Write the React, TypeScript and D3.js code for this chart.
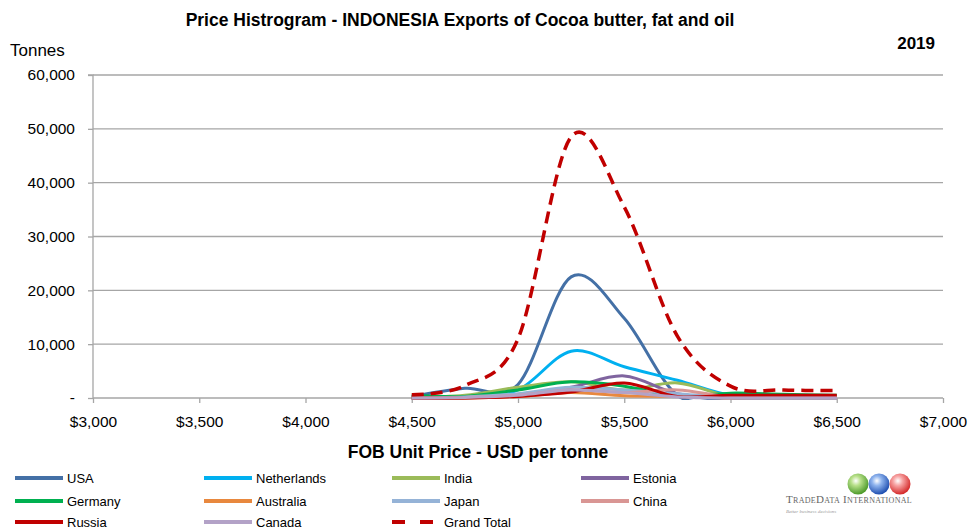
import React, { useRef, useEffect } from 'react';
import * as d3 from 'd3';

// price bins (USD per tonne)
const prices = [4500, 4750, 5000, 5250, 5500, 5750, 6000, 6250, 6500];

// tonnes per bin, by destination
const usa = [300, 1800, 2500, 22500, 14800, 500, 100, 0, 0];
const netherlands = [0, 300, 1500, 8700, 5800, 3300, 500, 200, 200];
const india = [100, 500, 2000, 3000, 1500, 2800, 300, 200, 200];
const estonia = [0, 0, 500, 2000, 4100, 800, 0, 0, 0];
const germany = [500, 300, 1500, 3000, 2200, 300, 900, 700, 500];
const australia = [0, 0, 300, 1000, 400, 300, 0, 0, 0];
const japan = [0, 200, 800, 2000, 1500, 800, 100, 0, 0];
const china = [0, 100, 500, 1500, 1000, 1500, 200, 100, 100];
const russia = [0, 0, 300, 1100, 2800, 300, 500, 500, 500];
const canada = [0, 100, 500, 1500, 1000, 200, 0, 0, 0];
const grandTotal = [600, 2300, 11000, 48500, 35500, 11500, 2200, 1500, 1400];

const xTicks = [3000, 3500, 4000, 4500, 5000, 5500, 6000, 6500, 7000];
const yTicks = [0, 10000, 20000, 30000, 40000, 50000, 60000];

const series = [
  { name: 'USA', values: usa, color: '#4470A6' },
  { name: 'Netherlands', values: netherlands, color: '#00B0F0' },
  { name: 'India', values: india, color: '#9BBB59' },
  { name: 'Estonia', values: estonia, color: '#7F649F' },
  { name: 'Germany', values: germany, color: '#00B050' },
  { name: 'Australia', values: australia, color: '#E8883E' },
  { name: 'Japan', values: japan, color: '#95B3D7' },
  { name: 'China', values: china, color: '#D99694' },
  { name: 'Russia', values: russia, color: '#C00000' },
  { name: 'Canada', values: canada, color: '#B3A2C7' },
  { name: 'Grand Total', values: grandTotal, color: '#C00000', dashed: true },
];

const W = 969;
const H = 529;

const Chart: React.FC = () => {
  const ref = useRef<SVGSVGElement>(null);

  useEffect(() => {
    if (!ref.current) return;
    const svg = d3.select(ref.current);
    svg.selectAll('*').remove();

    const left = 93, right = 943, top = 75, bottom = 398;
    const x = d3.scaleLinear().domain([3000, 7000]).range([left, right]);
    const y = d3.scaleLinear().domain([0, 60000]).range([bottom, top]);
    const font = 'Arial, "Liberation Sans", sans-serif';
    const grid = '#A6A6A6';

    svg.append('rect').attr('width', W).attr('height', H).attr('fill', '#fff');

    // titles
    svg.append('text')
      .attr('x', 460).attr('y', 26)
      .attr('text-anchor', 'middle')
      .style('font', `bold 17.5px ${font}`)
      .text('Price Histrogram - INDONESIA Exports of Cocoa butter, fat and oil');
    svg.append('text')
      .attr('x', 935).attr('y', 49)
      .attr('text-anchor', 'end')
      .style('font', `bold 17px ${font}`)
      .text('2019');
    svg.append('text')
      .attr('x', 10).attr('y', 56)
      .style('font', `17px ${font}`)
      .text('Tonnes');

    // gridlines
    svg.append('g').selectAll('line')
      .data(yTicks.filter(d => d > 0))
      .enter().append('line')
      .attr('x1', left).attr('x2', right)
      .attr('y1', d => y(d)).attr('y2', d => y(d))
      .attr('stroke', grid).attr('stroke-width', 1.3);

    // y axis
    const yAxis = svg.append('g')
      .attr('transform', `translate(${left},0)`)
      .call(d3.axisLeft(y).tickValues(yTicks).tickSize(5).tickPadding(13)
        .tickFormat(d => (+d === 0 ? '-' : d3.format(',')(+d))));
    yAxis.select('.domain').attr('stroke', grid).attr('stroke-width', 1.3).attr('d', `M-5,${top}H0V${bottom}`);
    yAxis.selectAll('.tick line').attr('stroke', grid).attr('stroke-width', 1.3);
    yAxis.selectAll('.tick text').style('font', `15.5px ${font}`).attr('fill', '#000');

    // x axis
    const xAxis = svg.append('g')
      .attr('transform', `translate(0,${bottom})`)
      .call(d3.axisBottom(x).tickValues(xTicks).tickSize(5).tickPadding(13)
        .tickFormat(d => '$' + d3.format(',')(+d)));
    xAxis.select('.domain').attr('stroke', grid).attr('stroke-width', 1.3).attr('d', `M${left},0H${right}`);
    xAxis.selectAll('.tick line').attr('stroke', grid).attr('stroke-width', 1.3);
    xAxis.selectAll('.tick text').style('font', `15.5px ${font}`).attr('fill', '#000');

    svg.append('text')
      .attr('x', 478).attr('y', 458)
      .attr('text-anchor', 'middle')
      .style('font', `bold 17.5px ${font}`)
      .text('FOB Unit Price - USD per tonne');

    // series lines
    svg.append('clipPath').attr('id', 'plot-clip')
      .append('rect').attr('x', left).attr('y', top - 10)
      .attr('width', right - left).attr('height', bottom - top + 12);

    const line = d3.line<number>()
      .x((_, i) => x(prices[i]))
      .y(d => y(d))
      .curve(d3.curveCardinal.tension(0));

    const lines = svg.append('g').attr('clip-path', 'url(#plot-clip)');
    series.forEach(s => {
      lines.append('path')
        .attr('d', line(s.values))
        .attr('fill', 'none')
        .attr('stroke', s.color)
        .attr('stroke-width', s.dashed ? 3.5 : 3)
        .attr('stroke-dasharray', s.dashed ? '12,7' : null)
        .attr('stroke-linejoin', 'round');
    });

    // legend
    const colX = [15, 204, 392, 581];
    const rowY = [478, 501, 522];
    const legend = svg.append('g');
    series.forEach((s, i) => {
      const cx = colX[i % 4];
      const cy = rowY[Math.floor(i / 4)];
      legend.append('line')
        .attr('x1', cx).attr('x2', cx + 48)
        .attr('y1', cy).attr('y2', cy)
        .attr('stroke', s.color)
        .attr('stroke-width', 4)
        .attr('stroke-dasharray', s.dashed ? '13,15' : null);
      legend.append('text')
        .attr('x', cx + 52).attr('y', cy + 5)
        .style('font', `13px ${font}`)
        .text(s.name);
    });

    // logo
    const logo = svg.append('g');
    const globes = [
      { cx: 858, c1: '#b8e08a', c2: '#4c9a2a' },
      { cx: 879, c1: '#8fb4ee', c2: '#1f4fb0' },
      { cx: 900, c1: '#f7a3a3', c2: '#d42a2a' },
    ];
    const defs = svg.append('defs');
    globes.forEach((g, i) => {
      const grad = defs.append('radialGradient').attr('id', `globe${i}`)
        .attr('cx', '40%').attr('cy', '35%').attr('r', '65%');
      grad.append('stop').attr('offset', '0%').attr('stop-color', '#fff');
      grad.append('stop').attr('offset', '35%').attr('stop-color', g.c1);
      grad.append('stop').attr('offset', '100%').attr('stop-color', g.c2);
      logo.append('circle')
        .attr('cx', g.cx).attr('cy', 484).attr('r', 10.5)
        .attr('fill', `url(#globe${i})`);
    });
    logo.append('text')
      .attr('x', 786).attr('y', 503)
      .style('font', '11px "Liberation Serif", "Times New Roman", serif')
      .style('font-variant', 'small-caps')
      .style('letter-spacing', '0.3px')
      .attr('fill', '#666')
      .text('TradeData International');
    logo.append('text')
      .attr('x', 786).attr('y', 513)
      .style('font', 'italic 5px "Liberation Serif", serif')
      .attr('fill', '#999')
      .text('Better business decisions');
  }, []);

  return <svg ref={ref} width={W} height={H} style={{ display: 'block' }} />;
};

export default function App() {
  return (
    <div style={{ position: 'absolute', left: 0, top: 0 }}>
      <Chart />
    </div>
  );
}
